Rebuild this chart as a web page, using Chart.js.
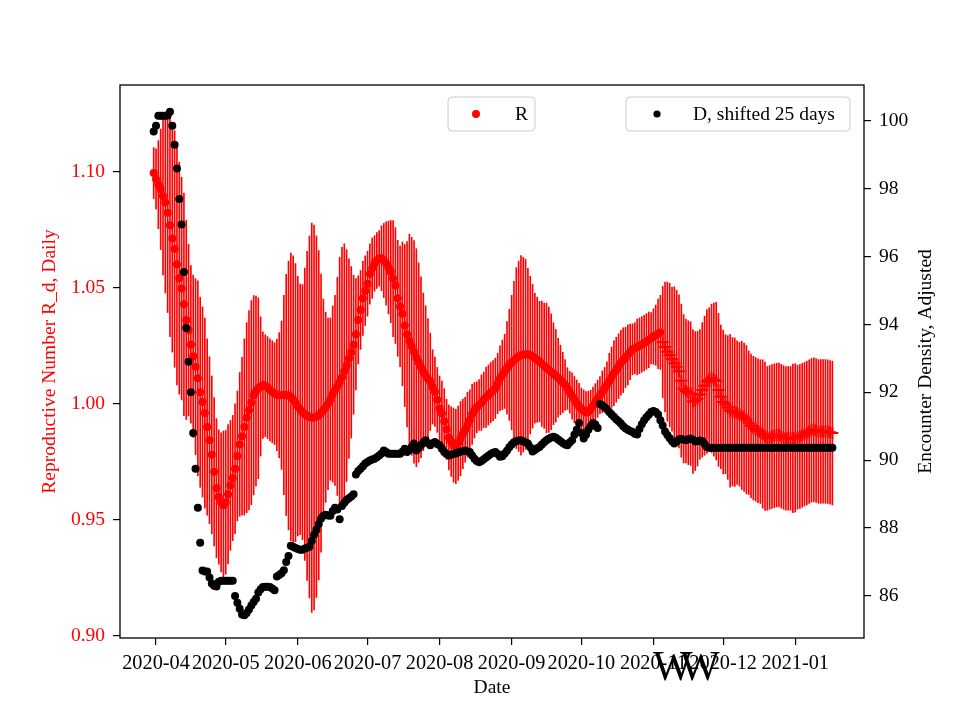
<!DOCTYPE html>
<html>
<head>
<meta charset="utf-8">
<script src="https://cdn.jsdelivr.net/npm/chart.js@4.4.1/dist/chart.umd.min.js"></script>
<style>
  html, body { margin: 0; padding: 0; background: #fff; }
  #wrap { width: 960px; height: 720px; }
</style>
</head>
<body>
<div id="wrap"><canvas id="chart"></canvas></div>
<script>
// days are counted from 2020-04-01, first value is 2020-03-31
const firstDay = -1;
const crossFrom = 219; // from here on R is drawn with '+' markers

const monthDays = [0, 30, 61, 91, 122, 153, 183, 214, 244, 275];
const monthLabels = ['2020-04', '2020-05', '2020-06', '2020-07', '2020-08',
  '2020-09', '2020-10', '2020-11', '2020-12', '2021-01'];
const leftTicks = [0.90, 0.95, 1.00, 1.05, 1.10];
const rightTicks = [86, 88, 90, 92, 94, 96, 98, 100];

const rValues = [
  1.0995, 1.0970, 1.0945, 1.0925, 1.0896, 1.0868, 1.0824, 1.0770, 1.0713, 1.0668,
  1.0602, 1.0542, 1.0497, 1.0429, 1.0362, 1.0318, 1.0256, 1.0205, 1.0160, 1.0110,
  1.0050, 1.0008, 0.9960, 0.9900, 0.9843, 0.9780, 0.9707, 0.9636, 0.9598, 0.9575,
  0.9563, 0.9575, 0.9610, 0.9648, 0.9680, 0.9720, 0.9775, 0.9825, 0.9860, 0.9900,
  0.9940, 0.9972, 1.0005, 1.0037, 1.0055, 1.0067, 1.0075, 1.0081, 1.0078, 1.0070,
  1.0060, 1.0052, 1.0044, 1.0038, 1.0037, 1.0037, 1.0038, 1.0038, 1.0036, 1.0030,
  1.0018, 1.0005, 0.9990, 0.9976, 0.9964, 0.9955, 0.9948, 0.9943, 0.9940, 0.9941,
  0.9945, 0.9951, 0.9960, 0.9972, 0.9985, 1.0000, 1.0020, 1.0042, 1.0058, 1.0075,
  1.0093, 1.0115, 1.0140, 1.0165, 1.0195, 1.0222, 1.0255, 1.0300, 1.0362, 1.0405,
  1.0455, 1.0488, 1.0518, 1.0560, 1.0585, 1.0605, 1.0618, 1.0627, 1.0628, 1.0618,
  1.0605, 1.0588, 1.0570, 1.0540, 1.0510, 1.0455, 1.0420, 1.0388, 1.0338, 1.0300,
  1.0272, 1.0248, 1.0224, 1.0199, 1.0178, 1.0158, 1.0138, 1.0123, 1.0108, 1.0095,
  1.0073, 1.0052, 1.0017, 0.9980, 0.9958, 0.9925, 0.9890, 0.9855, 0.9837, 0.9822,
  0.9816, 0.9830, 0.9850, 0.9870, 0.9888, 0.9910, 0.9930, 0.9955, 0.9972, 0.9985,
  0.9995, 1.0005, 1.0017, 1.0028, 1.0038, 1.0048, 1.0057, 1.0067, 1.0088, 1.0110,
  1.0125, 1.0140, 1.0155, 1.0168, 1.0178, 1.0188, 1.0197, 1.0205, 1.0209, 1.0212,
  1.0214, 1.0214, 1.0210, 1.0205, 1.0197, 1.0190, 1.0182, 1.0173, 1.0164, 1.0155,
  1.0147, 1.0138, 1.0130, 1.0121, 1.0112, 1.0103, 1.0092, 1.0081, 1.0066, 1.0050,
  1.0034, 1.0018, 1.0003, 0.9988, 0.9978, 0.9970, 0.9963, 0.9965, 0.9978, 0.9992,
  1.0007, 1.0022, 1.0037, 1.0052, 1.0067, 1.0081, 1.0098, 1.0115, 1.0132, 1.0147,
  1.0162, 1.0177, 1.0188, 1.0200, 1.0211, 1.0224, 1.0235, 1.0240, 1.0245, 1.0250,
  1.0256, 1.0262, 1.0269, 1.0276, 1.0283, 1.0290, 1.0296, 1.0302, 1.0308, 1.0266,
  1.0245, 1.0225, 1.0210, 1.0192, 1.0175, 1.0160, 1.0140, 1.0100, 1.0065, 1.0055,
  1.0048, 1.0044, 1.0010, 1.0012, 1.0022, 1.0040, 1.0060, 1.0078, 1.0096, 1.0104,
  1.0110, 1.0104, 1.0098, 1.0060, 1.0030, 1.0008, 0.9998, 0.9984, 0.9970, 0.9966,
  0.9964, 0.9962, 0.9955, 0.9950, 0.9942, 0.9932, 0.9918, 0.9905, 0.9895, 0.9890,
  0.9884, 0.9880, 0.9870, 0.9860, 0.9851, 0.9855, 0.9859, 0.9862, 0.9865, 0.9866,
  0.9860, 0.9855, 0.9851, 0.9851, 0.9851, 0.9851, 0.9853, 0.9856, 0.9859, 0.9864,
  0.9869, 0.9874, 0.9880, 0.9886, 0.9888, 0.9885, 0.9881, 0.9881, 0.9881, 0.9881,
  0.9880, 0.9877, 0.9874
];

// half length of the error bar around each R value
const rErr = [
  0.011, 0.013, 0.019, 0.026, 0.034, 0.039, 0.043, 0.048, 0.049, 0.051,
  0.052, 0.050, 0.048, 0.048, 0.043, 0.037, 0.034, 0.035, 0.038, 0.042,
  0.041, 0.041, 0.041, 0.038, 0.036, 0.034, 0.032, 0.030, 0.029, 0.030,
  0.032, 0.031, 0.030, 0.028, 0.027, 0.028, 0.028, 0.031, 0.034, 0.038,
  0.041, 0.043, 0.044, 0.043, 0.041, 0.039, 0.030, 0.023, 0.022, 0.022,
  0.022, 0.022, 0.022, 0.024, 0.027, 0.032, 0.043, 0.052, 0.058, 0.062,
  0.062, 0.060, 0.056, 0.054, 0.055, 0.063, 0.071, 0.078, 0.084, 0.083,
  0.078, 0.071, 0.060, 0.048, 0.041, 0.037, 0.035, 0.038, 0.041, 0.047,
  0.054, 0.056, 0.055, 0.050, 0.043, 0.037, 0.030, 0.024, 0.019, 0.017,
  0.016, 0.015, 0.014, 0.013, 0.013, 0.012, 0.012, 0.012, 0.014, 0.016,
  0.018, 0.020, 0.022, 0.025, 0.025, 0.025, 0.026, 0.031, 0.035, 0.040,
  0.046, 0.047, 0.048, 0.047, 0.043, 0.039, 0.034, 0.030, 0.026, 0.021,
  0.016, 0.015, 0.014, 0.014, 0.014, 0.014, 0.013, 0.014, 0.015, 0.016,
  0.016, 0.016, 0.016, 0.015, 0.014, 0.014, 0.013, 0.013, 0.012, 0.011,
  0.011, 0.012, 0.012, 0.013, 0.013, 0.013, 0.013, 0.013, 0.013, 0.014,
  0.015, 0.016, 0.020, 0.024, 0.029, 0.034, 0.039, 0.041, 0.043, 0.042,
  0.041, 0.037, 0.034, 0.031, 0.028, 0.027, 0.026, 0.027, 0.027, 0.028,
  0.027, 0.025, 0.022, 0.020, 0.017, 0.015, 0.013, 0.011, 0.009, 0.009,
  0.010, 0.010, 0.010, 0.010, 0.009, 0.009, 0.009, 0.009, 0.008, 0.008,
  0.008, 0.008, 0.008, 0.009, 0.009, 0.010, 0.012, 0.013, 0.014, 0.014,
  0.014, 0.014, 0.014, 0.013, 0.013, 0.012, 0.011, 0.011, 0.012, 0.012,
  0.012, 0.012, 0.012, 0.012, 0.011, 0.012, 0.013, 0.015, 0.016, 0.024,
  0.028, 0.030, 0.031, 0.031, 0.033, 0.033, 0.033, 0.033, 0.032, 0.031,
  0.031, 0.031, 0.031, 0.030, 0.029, 0.028, 0.029, 0.030, 0.031, 0.031,
  0.032, 0.033, 0.034, 0.033, 0.031, 0.031, 0.030, 0.031, 0.033, 0.032,
  0.032, 0.031, 0.031, 0.032, 0.032, 0.032, 0.031, 0.031, 0.031, 0.031,
  0.031, 0.031, 0.032, 0.032, 0.031, 0.031, 0.031, 0.031, 0.031, 0.031,
  0.031, 0.031, 0.031, 0.031, 0.031, 0.032, 0.032, 0.031, 0.031, 0.031,
  0.031, 0.031, 0.031, 0.031, 0.031, 0.031, 0.031, 0.031, 0.031, 0.031,
  0.031, 0.031, 0.031
];

// encounter density, already shifted by 25 days
const dValues = [
  99.69, 99.86, 100.15, 100.15, 100.15, 100.15, 100.16, 100.27, 99.86, 99.30,
  98.60, 97.70, 96.95, 95.55, 93.90, 92.90, 92.00, 90.80, 89.75, 88.60,
  87.57, 86.75, 86.72, 86.72, 86.54, 86.37, 86.30, 86.28, 86.42, 86.45,
  86.45, 86.45, 86.45, 86.45, 86.45, 86.00, 85.80, 85.62, 85.45, 85.43,
  85.50, 85.60, 85.72, 85.82, 85.92, 86.10, 86.20, 86.26, 86.27, 86.27,
  86.26, 86.22, 86.17, 86.57, 86.62, 86.67, 86.76, 87.00, 87.18, 87.48,
  87.45, 87.41, 87.38, 87.36, 87.36, 87.40, 87.42, 87.45, 87.62, 87.80,
  87.95, 88.12, 88.28, 88.36, 88.39, 88.37, 88.36, 88.50, 88.60, 88.55,
  88.26, 88.65, 88.75, 88.83, 88.88, 88.93, 89.00, 89.58, 89.68, 89.75,
  89.82, 89.90, 89.95, 89.99, 90.02, 90.04, 90.09, 90.14, 90.20, 90.29,
  90.24, 90.19, 90.19, 90.19, 90.19, 90.19, 90.19, 90.25, 90.34, 90.24,
  90.30, 90.39, 90.49, 90.29, 90.36, 90.44, 90.52, 90.59, 90.50, 90.44,
  90.50, 90.54, 90.48, 90.44, 90.34, 90.24, 90.18, 90.14, 90.16, 90.19,
  90.20, 90.23, 90.25, 90.27, 90.29, 90.26, 90.24, 90.14, 90.04, 89.98,
  89.94, 89.98, 90.03, 90.08, 90.13, 90.18, 90.22, 90.24, 90.18, 90.10,
  90.12, 90.20, 90.28, 90.38, 90.46, 90.53, 90.56, 90.58, 90.59, 90.56,
  90.52, 90.49, 90.38, 90.26, 90.30, 90.35, 90.39, 90.46, 90.53, 90.59,
  90.63, 90.67, 90.69, 90.66, 90.61, 90.56, 90.51, 90.46, 90.44, 90.52,
  90.59, 90.75, 90.90, 91.10, 90.80, 90.64, 90.75, 90.90, 91.00, 91.10,
  91.05, 90.95, 91.66, 91.62, 91.56, 91.50, 91.42, 91.35, 91.28, 91.21,
  91.15, 91.08, 91.00, 90.94, 90.90, 90.86, 90.83, 90.78, 90.76, 90.92,
  91.06, 91.18, 91.27, 91.34, 91.42, 91.45, 91.42, 91.35, 91.18, 91.02,
  90.85, 90.74, 90.65, 90.56, 90.49, 90.55, 90.62, 90.63, 90.60, 90.59,
  90.62, 90.64, 90.60, 90.55, 90.56, 90.58, 90.57, 90.48, 90.39, 90.37,
  90.37, 90.37, 90.37, 90.37, 90.37, 90.37, 90.37, 90.37, 90.37, 90.37,
  90.37, 90.37, 90.37, 90.37, 90.37, 90.37, 90.37, 90.37, 90.37, 90.37,
  90.37, 90.37, 90.37, 90.37, 90.37, 90.37, 90.37, 90.37, 90.37, 90.37,
  90.37, 90.37, 90.37, 90.37, 90.37, 90.37, 90.37, 90.37, 90.37, 90.37,
  90.37, 90.37, 90.37, 90.37, 90.37, 90.37, 90.37, 90.37, 90.37, 90.37,
  90.37, 90.37, 90.37
];

const rPoints = rValues.map((v, i) => ({ x: firstDay + i, y: v }));
const rBars = rValues.map((v, i) => ({ x: firstDay + i, y: [v - rErr[i], v + rErr[i]] }));
const dPoints = dValues.map((v, i) => ({ x: firstDay + i, y: v }));

const isCross = ctx => ctx.dataIndex >= crossFrom;

function legendBox(ctx, x, y, w, h, color, r, mx, text, tx) {
  ctx.beginPath();
  ctx.roundRect(x, y, w, h, 4);
  ctx.fillStyle = 'rgba(255,255,255,0.8)';
  ctx.fill();
  ctx.strokeStyle = '#cccccc';
  ctx.lineWidth = 1;
  ctx.stroke();
  ctx.beginPath();
  ctx.arc(mx, y + h / 2, r, 0, Math.PI * 2);
  ctx.fillStyle = color;
  ctx.fill();
  ctx.fillStyle = '#000';
  ctx.font = "19.5px 'Liberation Serif'";
  ctx.textBaseline = 'middle';
  ctx.textAlign = 'left';
  ctx.fillText(text, tx, y + h / 2 + 1);
}

const decor = {
  id: 'decor',
  afterDraw(chart) {
    const { ctx, chartArea: a } = chart;
    ctx.save();
    ctx.strokeStyle = '#000';
    ctx.lineWidth = 1.3;
    ctx.strokeRect(a.left, a.top, a.right - a.left, a.bottom - a.top);
    legendBox(ctx, 448, 97, 87, 34, 'red', 4, 476, 'R', 515);
    legendBox(ctx, 626, 97, 224, 34, '#000', 3.6, 657, 'D, shifted 25 days', 693);

    // right axis title reads bottom to top, like the left one
    ctx.save();
    ctx.translate(926, (a.top + a.bottom) / 2);
    ctx.rotate(-Math.PI / 2);
    ctx.fillStyle = '#000';
    ctx.font = "19.5px 'Liberation Serif'";
    ctx.textAlign = 'center';
    ctx.textBaseline = 'middle';
    ctx.fillText('Encounter Density, Adjusted', 0, 0);
    ctx.restore();

    ctx.fillStyle = '#000';
    ctx.font = "42px 'Liberation Serif'";
    ctx.textAlign = 'left';
    ctx.textBaseline = 'alphabetic';
    ctx.fillText('W', 653, 680);
    ctx.fillText('W', 680, 680);
    ctx.restore();
  }
};

Chart.defaults.font.family = "'Liberation Serif', 'Times New Roman', serif";
Chart.defaults.font.size = 19.5;
Chart.defaults.color = '#000';

const tickGrid = { drawOnChartArea: false, drawTicks: true, tickLength: 7, color: '#000', lineWidth: 1.2, offset: false };

new Chart(document.getElementById('chart'), {
  type: 'scatter',
  data: {
    datasets: [
      {
        label: 'D, shifted 25 days',
        data: dPoints,
        yAxisID: 'y2',
        pointBackgroundColor: '#000',
        pointBorderWidth: 0,
        pointRadius: 4,
        order: 0
      },
      {
        label: 'R',
        data: rPoints,
        yAxisID: 'y',
        pointBackgroundColor: 'red',
        pointBorderColor: 'red',
        pointStyle: ctx => isCross(ctx) ? 'cross' : 'circle',
        pointRadius: ctx => isCross(ctx) ? 6 : 4,
        pointBorderWidth: ctx => isCross(ctx) ? 2 : 0,
        order: 1
      },
      {
        type: 'bar',
        label: 'R error',
        data: rBars,
        yAxisID: 'y',
        backgroundColor: 'red',
        borderWidth: 0,
        barThickness: 1,
        grouped: false,
        order: 2
      }
    ]
  },
  options: {
    responsive: true,
    maintainAspectRatio: false,
    animation: false,
    layout: { padding: { left: 34, right: 20, top: 85, bottom: 16 } },
    plugins: {
      legend: { display: false },
      tooltip: { enabled: false }
    },
    scales: {
      x: {
        type: 'linear',
        offset: false,
        min: -15.5,
        max: 304.6,
        afterBuildTicks: s => { s.ticks = monthDays.map(v => ({ value: v })); },
        afterFit: s => { s.height = 66; },
        ticks: {
          autoSkip: false, maxRotation: 0, minRotation: 0, padding: 6,
          font: { size: 20.3 },
          callback: (v, i) => monthLabels[i]
        },
        grid: tickGrid,
        border: { display: false },
        title: { display: true, text: 'Date', color: '#000' }
      },
      y: {
        position: 'left',
        min: 0.899,
        max: 1.1375,
        afterBuildTicks: s => { s.ticks = leftTicks.map(v => ({ value: v })); },
        afterFit: s => { s.width = 86; },
        ticks: { color: 'red', padding: 8, callback: v => v.toFixed(2) },
        grid: tickGrid,
        border: { display: false },
        title: { display: true, text: 'Reproductive Number R_d, Daily', color: 'red' }
      },
      y2: {
        position: 'right',
        min: 84.76,
        max: 101.06,
        afterBuildTicks: s => { s.ticks = rightTicks.map(v => ({ value: v })); },
        afterFit: s => { s.width = 76; },
        ticks: { color: '#000', padding: 8, callback: v => String(v) },
        grid: tickGrid,
        border: { display: false }
      }
    }
  },
  plugins: [decor]
});
</script>
</body>
</html>
